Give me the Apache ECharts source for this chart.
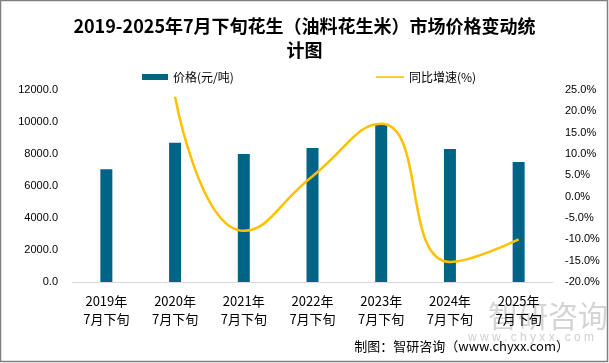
<!DOCTYPE html>
<html><head><meta charset="utf-8">
<script src="https://cdn.jsdelivr.net/npm/echarts@6/dist/echarts.min.js"></script>
<style>html,body{margin:0;padding:0;background:#fff}#c{width:609px;height:363px}</style>
</head><body><div id="c"></div>
<script>
const titleText = '2019-2025年7月下旬花生（油料花生米）市场价格变动统\n计图';
const categories = ['2019年\n7月下旬','2020年\n7月下旬','2021年\n7月下旬','2022年\n7月下旬','2023年\n7月下旬','2024年\n7月下旬','2025年\n7月下旬'];
const priceName = '价格(元/吨)';
const growthName = '同比增速(%)';
const prices = [7050, 8700, 8000, 8380, 9810, 8310, 7500];
const growth = [null, 23.4, -8.0, 4.8, 17.1, -15.3, -10.0];
const leftTicks = {min: 0, max: 12000, interval: 2000};
const rightTicks = {min: -20, max: 25, interval: 5};

const legendText = {fontFamily: 'Noto Sans CJK SC', fontSize: 12, color: '#000'};
const chart = echarts.init(document.getElementById('c'), null, {renderer: 'canvas'});
chart.setOption({
  animation: false,
  backgroundColor: '#fff',
  title: {
    text: titleText, left: 'center', top: 9,
    textStyle: {fontFamily: 'Noto Sans CJK SC', fontSize: 18, fontWeight: 'bold', color: '#000', lineHeight: 24}
  },
  legend: [
    {top: 66, left: 137, textStyle: legendText, itemWidth: 26, itemHeight: 6, itemGap: 4,
     data: [{name: priceName, icon: 'rect', itemStyle: {color: '#006487'}}]},
    {top: 66, left: 371, textStyle: legendText, itemWidth: 28, itemHeight: 6, itemGap: 4,
     data: [{name: growthName, icon: 'path://M0,2.2 L28,2.2 L28,3.8 L0,3.8 Z', itemStyle: {color: '#FFC000'}}]}
  ],
  grid: {left: 72, right: 56, top: 90, bottom: 81},
  xAxis: {
    type: 'category', data: categories,
    axisLine: {lineStyle: {color: '#d9d9d9', width: 1}},
    axisTick: {show: false},
    axisLabel: {fontFamily: 'Noto Sans CJK SC', fontSize: 13, color: '#000', lineHeight: 18, margin: 10, interval: 0}
  },
  yAxis: [
    {type: 'value', min: leftTicks.min, max: leftTicks.max, interval: leftTicks.interval,
     splitLine: {show: false}, axisLine: {show: false}, axisTick: {show: false},
     axisLabel: {fontFamily: 'Liberation Sans', fontSize: 11, color: '#000', margin: 14,
       formatter: v => v.toFixed(1)}},
    {type: 'value', min: rightTicks.min, max: rightTicks.max, interval: rightTicks.interval,
     splitLine: {show: false}, axisLine: {show: false}, axisTick: {show: false},
     axisLabel: {fontFamily: 'Liberation Sans', fontSize: 11, color: '#000', margin: 12,
       formatter: v => v.toFixed(1) + '%'}}
  ],
  series: [
    {name: priceName, type: 'bar', data: prices, barWidth: 12, itemStyle: {color: '#006487'}},
    {name: growthName, type: 'line', yAxisIndex: 1, data: growth, smooth: 0.5,
     showSymbol: false, symbol: 'none', connectNulls: false,
     lineStyle: {color: '#FFC000', width: 2.5}, itemStyle: {color: '#FFC000'}}
  ],
  graphic: [
    {type: 'rect', shape: {x: 0.5, y: 0.5, width: 607, height: 361}, style: {fill: 'none', stroke: '#808080', lineWidth: 1.5}, silent: true},
    {type: 'text', left: 488, top: 301, style: {text: '智研咨询', fontSize: 30, fontFamily: 'Noto Sans CJK SC', fill: 'rgba(160,160,160,0.45)'}, silent: true},
    {type: 'text', left: 468, top: 332, style: {text: 'w w w . c h y x x . c o m', fontSize: 12, fontFamily: 'Liberation Sans', fill: 'rgba(160,160,160,0.5)'}, silent: true},
    {type: 'text', right: 40, top: 340, style: {text: '制图：智研咨询（www.chyxx.com）', fontSize: 13, fontFamily: 'Noto Sans CJK SC', fill: '#000'}, z: 10, silent: true}
  ]
});
</script></body></html>
